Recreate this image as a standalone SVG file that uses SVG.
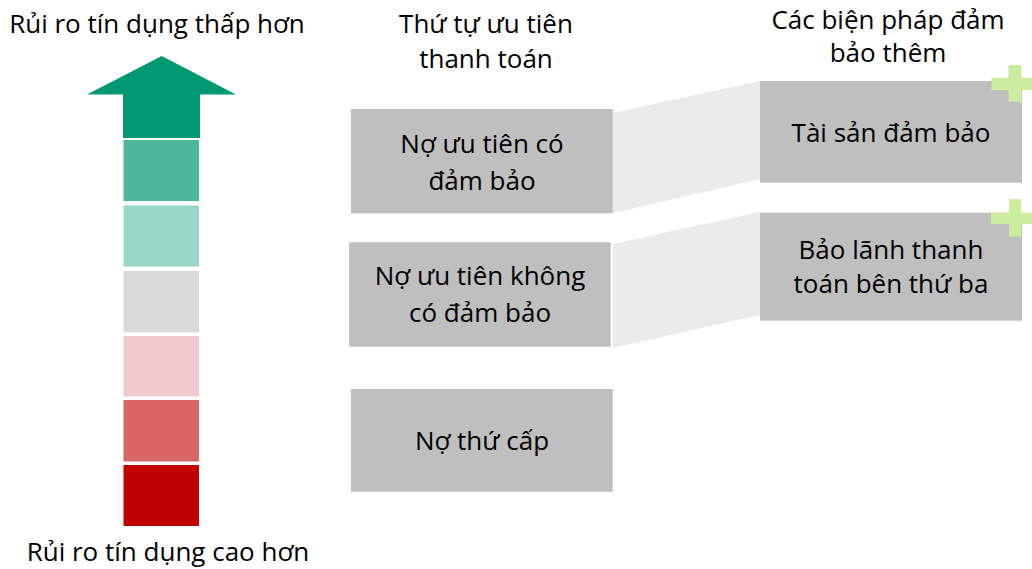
<svg xmlns="http://www.w3.org/2000/svg" width="1032" height="569" viewBox="0 0 1032 569">
<style>
text{font-family:"Open Sans","Liberation Sans",Arial,sans-serif;font-size:26px;fill:#000;text-anchor:middle}
.box{fill:#BFBFBF}
.conn{fill:#EBEBEB}
.plus{fill:#CCEC9E}
.blk{stroke:#fff;stroke-width:1}
</style>
<rect width="1032" height="569" fill="#fff"/>
<g id="scale">
<polygon points="161.7,56 236,94.5 200,94.5 200,138 123,138 123,94.5 87,94.5" fill="#009973"/>
<rect class="blk" x="123" y="139.5" width="76.5" height="62" fill="#4DB79C"/>
<rect class="blk" x="123" y="205" width="76.5" height="62" fill="#9AD6C6"/>
<rect class="blk" x="123" y="270.5" width="76.5" height="62.5" fill="#D9D9D9"/>
<rect class="blk" x="123" y="335.5" width="76.5" height="61.5" fill="#F2CACD"/>
<rect class="blk" x="123" y="399.5" width="76.5" height="62.5" fill="#D86666"/>
<rect class="blk" x="123" y="464.5" width="76.5" height="62" fill="#C00000"/>
</g>
<g id="label-low"><text x="157" y="33">Rủi ro tín dụng thấp hơn</text></g>
<g id="label-high"><text x="168" y="561">Rủi ro tín dụng cao hơn</text></g>
<g id="title-priority"><text x="486" y="33">Thứ tự ưu tiên</text><text x="486" y="68">thanh toán</text></g>
<g id="title-security"><text x="888" y="29">Các biện pháp đảm</text><text x="888" y="62">bảo thêm</text></g>
<g id="connectors">
<polygon class="conn" points="612.7,112.7 760,81 760,179 612.7,213.3"/>
<polygon class="conn" points="612.7,244 760,211.7 760,315 612.7,348"/>
</g>
<g id="n1"><rect class="box" x="351" y="109" width="261.7" height="104.3"/><text x="482" y="153">Nợ ưu tiên có</text><text x="482" y="190">đảm bảo</text></g>
<g id="n2"><rect class="box" x="349" y="242.3" width="261.7" height="104.4"/><text x="480" y="285">Nợ ưu tiên không</text><text x="480" y="322">có đảm bảo</text></g>
<g id="n3"><rect class="box" x="351" y="389" width="261.7" height="102.7"/><text x="482" y="450">Nợ thứ cấp</text></g>
<g id="r1"><rect class="box" x="760" y="81" width="262" height="101.7"/><text x="891" y="142">Tài sản đảm bảo</text>
<path class="plus" d="M1008.5,65h13v12.7h17.5v12.3h-17.5v11.7h-13v-11.7h-17v-12.3h17z"/></g>
<g id="r2"><rect class="box" x="760" y="212.7" width="262" height="108"/><text x="891" y="259">Bảo lãnh thanh</text><text x="891" y="293">toán bên thứ ba</text>
<path class="plus" d="M1009,199.3h12v13.4h18v11.3h-18v12.7h-12v-12.7h-18v-11.3h18z"/></g>
</svg>
